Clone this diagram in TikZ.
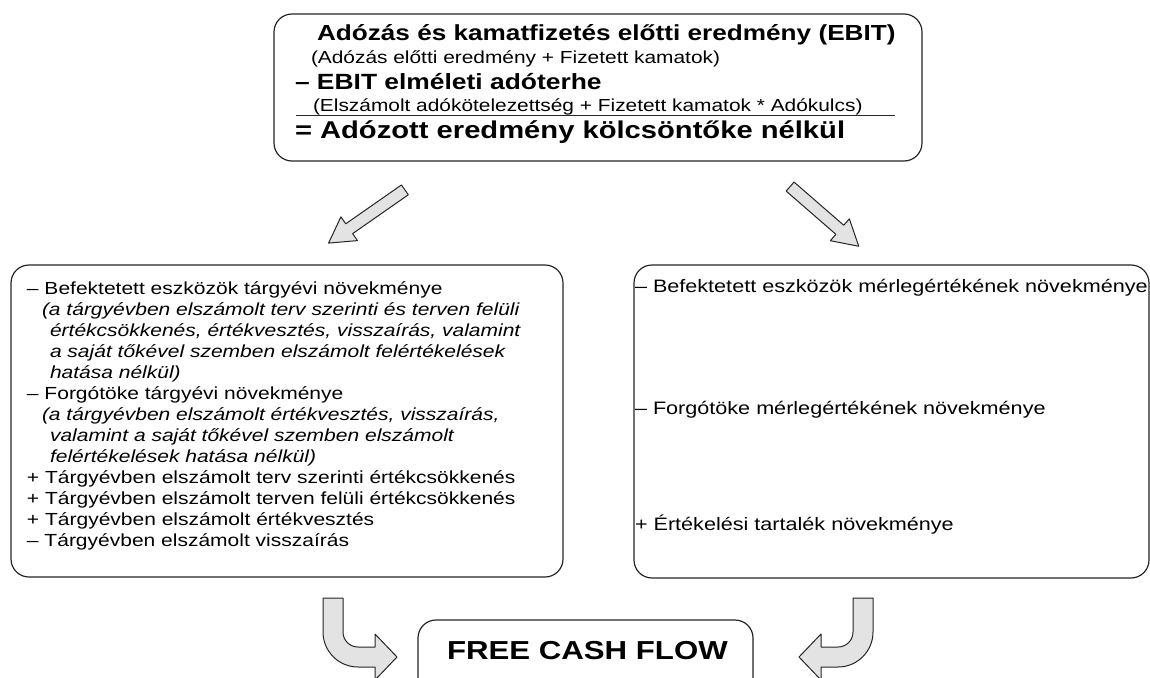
\documentclass[tikz,border=0pt]{standalone}
\usepackage{fontspec}
\setmainfont{Liberation Sans}
\newfontfamily\wf{Liberation Sans}[FakeStretch=1.2]
\usetikzlibrary{shapes.arrows}
\tikzset{
  box/.style={draw=black!85, line width=1.2pt, rounded corners=18pt, inner sep=0pt},
  txt/.style={anchor=base west, inner sep=0pt, outer sep=0pt},
  tbig/.style={txt, font=\wf\bfseries\fontsize{21.8}{24}\selectfont},
  tsub/.style={txt, font=\wf\fontsize{17.4}{21}\selectfont},
  tmid/.style={txt, font=\wf\bfseries\fontsize{22}{26}\selectfont},
  tres/.style={txt, font=\wf\bfseries\fontsize{24.3}{28}\selectfont},
  lreg/.style={txt, font=\wf\fontsize{17.5}{21}\selectfont},
  lit/.style={txt, font=\wf\itshape\fontsize{17.5}{21}\selectfont},
  rreg/.style={txt, font=\wf\fontsize{18}{21}\selectfont},
  fcf/.style={txt, font=\wf\bfseries\fontsize{26}{30}\selectfont},
  blk/.style={draw=black!85, fill=gray!22, line width=1pt, line join=round},
  darr/.style={blk, single arrow, inner sep=5.5pt, single arrow head extend=8.5pt,
               single arrow tip angle=60},
}
\begin{document}
\begin{tikzpicture}[x=1pt, y=-1pt]
\useasboundingbox (0,0) rectangle (1150,677);
\fill[white] (0,0) rectangle (1150,677);

% top box
\node[box, minimum width=648pt, minimum height=147pt] (top) at (598,87.5) {};
\node[tbig] (t1) at (317,40.8) {Adózás és kamatfizetés előtti eredmény (EBIT)};
\node[tsub] (t2) at (311,63.3) {(Adózás előtti eredmény + Fizetett kamatok)};
\node[tmid] (t3) at (295,89.9) {– EBIT elméleti adóterhe};
\node[tsub] (t4) at (313,111.4) {(Elszámolt adókötelezettség + Fizetett kamatok * Adókulcs)};
\coordinate (ulA) at (296,115);
\coordinate (ulB) at (895,115);
\draw[line width=1pt, black!85] (ulA) -- (ulB);
\node[tres] (t5) at (295,138.7) {= Adózott eredmény kölcsöntőke nélkül};

% diagonal arrows
\node[darr, minimum height=93pt, rotate=214.9] (arrL) at (371,213.5) {};
\node[darr, minimum height=91pt, rotate=-41] (arrR) at (820.5,213) {};

% left box
\node[box, minimum width=552pt, minimum height=312pt] (lbox) at (287,421) {};
\node[lreg] (l0)  at (27,294.3) {– Befektetett eszközök tárgyévi növekménye};
\node[lit]  (l1)  at (42,315.3) {(a tárgyévben elszámolt terv szerinti és terven felüli};
\node[lit]  (l2)  at (50,336.3) {értékcsökkenés, értékvesztés, visszaírás, valamint};
\node[lit]  (l3)  at (50,357.3) {a saját tőkével szemben elszámolt felértékelések};
\node[lit]  (l4)  at (50,378.3) {hatása nélkül)};
\node[lreg] (l5)  at (27,399.3) {– Forgótöke tárgyévi növekménye};
\node[lit]  (l6)  at (42,420.3) {(a tárgyévben elszámolt értékvesztés, visszaírás,};
\node[lit]  (l7)  at (50,441.3) {valamint a saját tőkével szemben elszámolt};
\node[lit]  (l8)  at (50,462.3) {felértékelések hatása nélkül)};
\node[lreg] (l9)  at (27,483.3) {+ Tárgyévben elszámolt terv szerinti értékcsökkenés};
\node[lreg] (l10) at (27,504.3) {+ Tárgyévben elszámolt terven felüli értékcsökkenés};
\node[lreg] (l11) at (27,525.3) {+ Tárgyévben elszámolt értékvesztés};
\node[lreg] (l12) at (27,546.3) {– Tárgyévben elszámolt visszaírás};

% right box
\node[box, minimum width=515pt, minimum height=313pt] (rbox) at (891.5,421.5) {};
\node[rreg] (r0) at (635,292.4) {– Befektetett eszközök mérlegértékének növekménye};
\node[rreg] (r1) at (635,414.4) {– Forgótöke mérlegértékének növekménye};
\node[rreg] (r2) at (635,530.4) {+ Értékelési tartalék növekménye};

% free cash flow box
\node[box, minimum width=335pt, minimum height=90pt] (fcfbox) at (585.5,665) {};
\node[fcf] (fcf) at (447,659.3) {FREE CASH FLOW};

% curved arrows
\draw[blk] (323,598) -- (343,598) -- (343,632) .. controls (343,640.3) and (349.7,647) .. (358,647)
  -- (375,647) -- (375,634) -- (397,657) -- (375,680) -- (375,667) -- (358,667)
  .. controls (338.7,667) and (323,651.3) .. (323,632) -- cycle;
\draw[blk] (873,598) -- (853,598) -- (853,632) .. controls (853,640.3) and (846.3,647) .. (838,647)
  -- (821,647) -- (821,634) -- (799,657) -- (821,680) -- (821,667) -- (838,667)
  .. controls (857.3,667) and (873,651.3) .. (873,632) -- cycle;
\end{tikzpicture}
\end{document}
